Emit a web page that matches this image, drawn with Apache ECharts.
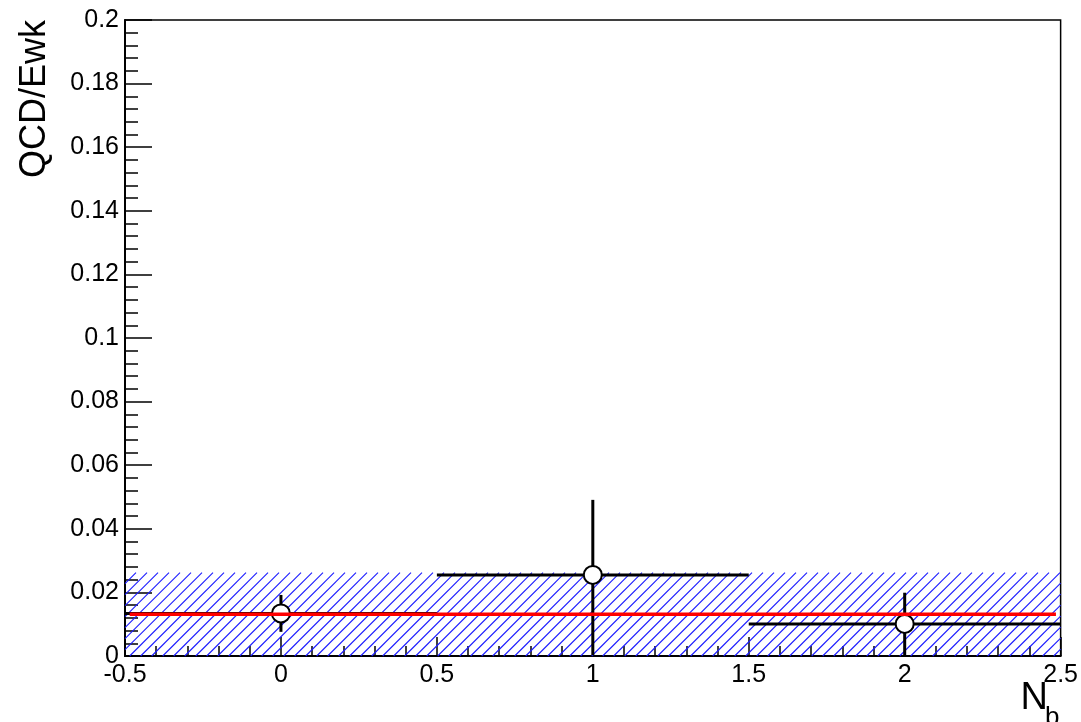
<!DOCTYPE html>
<html>
<head>
<meta charset="utf-8">
<script src="https://cdn.jsdelivr.net/npm/echarts@6/dist/echarts.min.js"></script>
<style>
html,body{margin:0;padding:0;background:#fff;}
#c{width:1081px;height:722px;}
</style>
</head>
<body>
<div id="c"></div>
<script>
// ---- data ----
var binCenters = [0, 1, 2];
var binHalfWidth = [0.5, 0.5, 0.5];
var ratioValues = [0.0134, 0.0255, 0.0101];
var errLow = [0.0058, 0.0252, 0.0100];
var errHigh = [0.0058, 0.0236, 0.0098];
var fitValue = 0.0131;
var fitRange = [-0.485, 2.485];
var bandRange = [-0.5, 2.5];
var bandLow = 0.0;
var bandHigh = 0.0262;
var yTitle = 'QCD/Ewk';
var xTitleMain = 'N';
var xTitleSub = 'b';

var pointData = binCenters.map(function (x, i) {
  return [x, ratioValues[i], binHalfWidth[i], errLow[i], errHigh[i]];
});

var chart = echarts.init(document.getElementById('c'), null, {renderer: 'canvas'});
var FONT = 'Liberation Sans, Arial, Helvetica, sans-serif';
var HATCH_STEP = 11;

var option = {
  backgroundColor: '#fff',
  animation: false,
  grid: {left: 125, right: 19, top: 20, bottom: 66, show: true, borderColor: '#000', borderWidth: 1.5, backgroundColor: 'transparent'},
  xAxis: {
    type: 'value', min: -0.5, max: 2.5, interval: 0.5,
    axisLine: {show: true, onZero: false, lineStyle: {color: '#000', width: 2}},
    axisTick: {show: true, inside: true, length: 19, lineStyle: {color: '#000', width: 1.5}},
    minorTick: {show: true, splitNumber: 5, length: 10, lineStyle: {color: '#000', width: 1.5}},
    splitLine: {show: false},
    axisLabel: {color: '#000', fontSize: 25, fontFamily: FONT, margin: 7}
  },
  yAxis: {
    type: 'value', min: 0, max: 0.2, interval: 0.02,
    axisLine: {show: true, onZero: false, lineStyle: {color: '#000', width: 2}},
    axisTick: {show: true, inside: true, length: 27, lineStyle: {color: '#000', width: 1.5}},
    minorTick: {show: true, splitNumber: 5, length: 13, lineStyle: {color: '#000', width: 1.5}},
    splitLine: {show: false},
    axisLabel: {color: '#000', fontSize: 25, fontFamily: FONT, margin: 6}
  },
  series: [
    {
      type: 'custom', z: 1,
      data: [[bandRange[0], bandRange[1], bandLow, bandHigh]],
      renderItem: function (params, api) {
        var p0 = api.coord([api.value(0), api.value(3)]);
        var p1 = api.coord([api.value(1), api.value(2)]);
        var x0 = p0[0], y0 = p0[1], w = p1[0] - p0[0], h = p1[1] - p0[1];
        var children = [];
        // 45-degree hatch lines, clipped to the band rectangle
        for (var k = -h; k < w; k += HATCH_STEP) {
          var t0 = Math.max(0, -k), t1 = Math.min(h, w - k);
          if (t1 <= t0) continue;
          children.push({
            type: 'line',
            shape: {x1: x0 + k + t0, y1: y0 + h - t0, x2: x0 + k + t1, y2: y0 + h - t1},
            style: {stroke: '#1a1aff', lineWidth: 1.1}
          });
        }
        return {type: 'group', children: children};
      }
    },
    {
      type: 'custom', z: 2,
      data: pointData,
      renderItem: function (params, api) {
        var x = api.value(0), y = api.value(1), hw = api.value(2), lo = api.value(3), hi = api.value(4);
        var a = api.coord([x - hw, y]), b = api.coord([x + hw, y]);
        var t = api.coord([x, y + hi]), d = api.coord([x, Math.max(0, y - lo)]);
        var st = {stroke: '#000', lineWidth: 3};
        return {
          type: 'group',
          children: [
            {type: 'line', shape: {x1: a[0], y1: a[1], x2: b[0], y2: b[1]}, style: st},
            {type: 'line', shape: {x1: t[0], y1: t[1], x2: d[0], y2: d[1]}, style: st}
          ]
        };
      }
    },
    {
      type: 'scatter', z: 3,
      data: binCenters.map(function (x, i) { return [x, ratioValues[i]]; }),
      symbol: 'circle', symbolSize: 18,
      itemStyle: {color: '#fff', borderColor: '#000', borderWidth: 2, opacity: 1}
    },
    {
      type: 'line', z: 4,
      data: [[fitRange[0], fitValue], [fitRange[1], fitValue]],
      symbol: 'none',
      lineStyle: {color: '#ff0000', width: 3.5}
    }
  ],
  graphic: [
    {type: 'text', x: 35, y: 20, rotation: Math.PI / 2,
     style: {text: yTitle, font: '36px ' + FONT, fill: '#000', textAlign: 'right', textVerticalAlign: 'middle'}},
    {type: 'text', x: 1048, y: 699,
     style: {text: xTitleMain, font: '38px ' + FONT, fill: '#000', textAlign: 'right', textVerticalAlign: 'middle'}},
    {type: 'text', x: 1045, y: 718,
     style: {text: xTitleSub, font: '26px ' + FONT, fill: '#000', textAlign: 'left', textVerticalAlign: 'middle'}}
  ]
};
chart.setOption(option);
</script>
</body>
</html>
